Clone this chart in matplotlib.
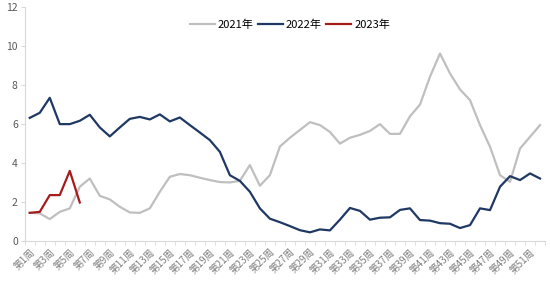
import matplotlib
matplotlib.use("Agg")
import matplotlib.pyplot as plt
import numpy as np

plt.rcParams['font.family'] = ['Noto Sans CJK SC', 'DejaVu Sans']

# weekly values
weeks = list(range(1, 53))
y2021 = [1.45, 1.42, 1.13, 1.5, 1.68, 2.79, 3.21, 2.32, 2.14, 1.76,
         1.47, 1.45, 1.68, 2.53, 3.3, 3.44, 3.38, 3.25, 3.13, 3.03,
         3.01, 3.09, 3.9, 2.84, 3.38, 4.85, 5.3, 5.7, 6.1, 5.95,
         5.6, 5.0, 5.3, 5.45, 5.65, 6.0, 5.5, 5.5, 6.4, 7.0,
         8.43, 9.62, 8.6, 7.78, 7.23, 5.95, 4.84, 3.38, 3.04, 4.75,
         5.35, 5.95]
y2022 = [6.32, 6.58, 7.35, 6.0, 6.0, 6.17, 6.48, 5.83, 5.37, 5.83,
         6.27, 6.37, 6.24, 6.5, 6.14, 6.34, 5.95, 5.57, 5.18, 4.58,
         3.38, 3.09, 2.53, 1.68, 1.15, 0.97, 0.77, 0.56, 0.45, 0.6,
         0.55, 1.1, 1.7, 1.55, 1.1, 1.2, 1.22, 1.6, 1.68, 1.08,
         1.05, 0.92, 0.89, 0.67, 0.82, 1.68, 1.59, 2.79, 3.33, 3.13,
         3.47, 3.21]
y2023 = [1.45, 1.5, 2.36, 2.36, 3.6, 1.98]
labels = ["第%d周" % w for w in weeks]

fig = plt.figure(figsize=(5.5, 2.85), dpi=100)
ax = fig.add_axes([0.045, 0.154, 0.946, 0.821])

ax.plot(weeks, y2021, color="#BFBFBF", lw=1.6, label="2021年")
ax.plot(weeks, y2022, color="#1F3864", lw=1.6, label="2022年")
ax.plot(weeks[:len(y2023)], y2023, color="#A61C1C", lw=1.6, label="2023年")

ax.set_xlim(0.5, 52.5)
ax.set_ylim(0, 12)
ax.set_yticks(range(0, 13, 2))
ax.set_xticks(weeks[::2])
ax.set_xticklabels(labels[::2], rotation=45, ha="right", rotation_mode="anchor",
                   fontsize=7, color="#7F7F7F")
ax.set_xticks(np.arange(0.5, 53, 1), minor=True)
ax.tick_params(axis="x", which="major", length=0, pad=4)
ax.tick_params(axis="x", which="minor", length=3, color="#D9D9D9")
ax.tick_params(axis="y", length=3, color="#D9D9D9", labelsize=7.5,
               labelcolor="#595959", pad=2)

for s in ["top", "right"]:
    ax.spines[s].set_visible(False)
for s in ["left", "bottom"]:
    ax.spines[s].set_color("#D9D9D9")

ax.legend(loc="upper center", bbox_to_anchor=(0.51, 0.99), ncol=3, frameon=False,
          fontsize=8, handlelength=2.2, handletextpad=0.3, columnspacing=0.4)

fig.savefig("out.png", dpi=100)
